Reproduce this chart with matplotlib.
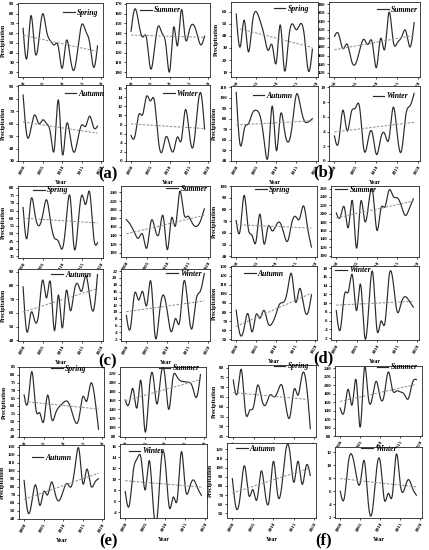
import numpy as np
import matplotlib
matplotlib.use("Agg")
import matplotlib.pyplot as plt
from matplotlib.lines import Line2D

plt.rcParams['font.family'] = ['Liberation Serif', 'DejaVu Serif']

years = list(range(2000, 2020))
seasons = ["Spring", "Summer", "Autumn", "Winter"]

a_spring = [65, 35, 78, 42, 52, 80, 62, 52, 48, 46, 24, 52, 36, 22, 45, 69, 62, 50, 25, 47]
a_summer = [142, 165, 150, 136, 135, 104, 122, 147, 140, 128, 101, 146, 127, 164, 135, 142, 149, 140, 128, 137]
a_autumn = [83, 50, 56, 67, 60, 63, 60, 52, 40, 79, 36, 58, 50, 37, 48, 59, 58, 66, 57, 58]
a_winter = [5.6, 5.4, 10.2, 10.2, 14.2, 13.2, 13.4, 5.0, 2.0, 5.3, 3.5, 2.2, 5.3, 4.6, 11.2, 6.5, 3.0, 10, 15, 7]
b_spring = [58, 31, 53, 27, 50, 60, 52, 40, 28, 32, 18, 49, 12, 35, 50, 45, 50, 40, 11, 29]
b_summer = [205, 210, 176, 187, 150, 140, 172, 198, 186, 191, 132, 200, 175, 261, 194, 190, 203, 218, 180, 237]
b_autumn = [105, 55, 70, 75, 85, 88, 82, 58, 46, 92, 50, 83, 70, 58, 75, 103, 92, 78, 77, 80]
b_winter = [3.4, 2.6, 6.9, 4.1, 6.6, 7.2, 7.3, 1.6, 2.8, 3.9, 0.9, 3.0, 3.7, 3.0, 7.3, 3.5, 1.4, 6.2, 7.5, 9.2]
c_spring = [67, 47, 72, 63, 55, 62, 72, 58, 47, 45, 40, 58, 74, 41, 55, 75, 69, 77, 48, 44]
c_summer = [177, 165, 146, 134, 142, 111, 172, 155, 146, 184.5, 107, 180, 163, 242, 192, 185, 170, 161, 172, 202]
c_autumn = [79, 46, 60, 54, 60, 84, 71, 82, 47, 73, 49, 76, 62, 75, 81, 76, 87, 72, 62, 88]
c_winter = [9, 5.3, 15.4, 13.5, 16, 12, 18.9, 3, 9, 15, 10, 4.2, 8.1, 7.1, 18.9, 12, 5.1, 13.5, 16, 21.3]
d_spring = [70.5, 62, 92, 65, 58, 52.5, 76, 51, 65, 62, 66, 69, 60, 53, 68, 74, 72, 83, 65, 48]
d_summer = [202, 192, 215, 168, 230, 118, 227, 183, 225, 252, 161, 212, 216, 256, 242, 238, 220, 196, 212, 235]
d_autumn = [82, 55, 62, 78, 58, 77, 73, 82, 68, 67, 77, 89, 91, 105, 122, 91, 106, 88, 78, 99]
d_winter = [8.3, 4, 11.9, 12.7, 16.3, 8.3, 14.3, 2.4, 9, 17, 4.1, 5.9, 5.5, 16, 15, 8.1, 10, 11.5, 10.5, 9.1]
e_spring = [67, 62.7, 82, 58, 55.5, 50, 67, 52, 55, 59.5, 62, 63, 58, 50, 52, 66, 63, 74.4, 66, 45]
e_summer = [161, 153, 186, 144, 204, 91, 175, 218, 152, 215, 218, 140, 208, 214, 204, 202, 201, 190, 167, 218]
e_autumn = [88, 48, 62, 82, 57, 74, 70, 86, 70, 63, 75, 84, 80, 105, 127, 84, 102, 82, 85, 90]
e_winter = [7.8, 5.2, 11.5, 13.8, 13.6, 8.1, 13.4, 5.0, 3.2, 13.5, 13.0, 4.9, 6.8, 6.5, 15, 8.4, 8.4, 9.9, 8.5, 7.1]
f_spring = [73.7, 67, 79, 57.4, 58, 60, 71, 64, 61, 66, 65, 68, 71, 60, 55, 69, 66, 76.6, 72, 48.8]
f_summer = [146, 138, 190, 154, 211, 101, 238, 172, 170, 209, 170, 178, 231, 190, 186, 184, 178, 168, 205, 213]
f_autumn = [88, 55, 72, 102, 70, 76, 65, 96, 72, 65, 107, 72, 78, 118, 118, 84, 107, 82, 102, 91.5]
f_winter = [6, 4.9, 10.3, 11.5, 8.5, 7.3, 10.7, 4.2, 2.9, 9.0, 10.5, 4.7, 5.7, 5.4, 11.7, 7.0, 6.3, 7.8, 6.5, 5.4]

series = {
    "a": [a_spring, a_summer, a_autumn, a_winter],
    "b": [b_spring, b_summer, b_autumn, b_winter],
    "c": [c_spring, c_summer, c_autumn, c_winter],
    "d": [d_spring, d_summer, d_autumn, d_winter],
    "e": [e_spring, e_summer, e_autumn, e_winter],
    "f": [f_spring, f_summer, f_autumn, f_winter],
}

# y-axis ranges and tick steps (lim_lo, lim_hi, tick_lo, tick_hi, step)
yaxes = {
    "a": [(15, 91, 20, 90, 10), (95, 171, 100, 170, 10), (30, 91, 30, 90, 10), (0, 16.7, 0, 16, 2)],
    "b": [(6, 68, 10, 60, 10), (110, 285, 120, 280, 20), (40, 111, 40, 110, 10), (0, 10.2, 0, 10, 2)],
    "c": [(34, 81, 35, 80, 5), (90, 255, 100, 240, 20), (39.5, 92, 40, 90, 10), (1.5, 22.6, 2, 22, 2)],
    "d": [(39.5, 100, 40, 100, 10), (97, 266, 100, 260, 20), (49, 131, 50, 130, 10), (1.6, 18.5, 2, 18, 2)],
    "e": [(40, 85, 40, 85, 5), (78, 235, 80, 220, 20), (40, 132, 40, 130, 10), (3, 16.4, 4, 16, 2)],
    "f": [(44.5, 81.4, 45, 80, 5), (80, 245, 80, 240, 20), (45, 127, 50, 120, 10), (1.9, 12.8, 2, 12, 2)],
}

# axes rectangles in pixels: left, top, right, bottom
rects = {
    "a": [(18, 3, 103, 77), (126, 3, 210, 77), (18, 85, 103, 161), (126, 85, 210, 161)],
    "b": [(231, 2, 318, 77), (329, 2, 420, 77), (231, 86, 318, 161), (329, 86, 420, 161)],
    "c": [(18, 186, 103, 258), (121, 186, 210, 257), (18, 269, 103, 341), (121, 269, 210, 341)],
    "d": [(231, 186, 317, 257), (331, 186, 419, 257), (231, 266, 317, 340), (331, 266, 419, 340)],
    "e": [(19, 367, 104, 437), (120, 367, 206, 437), (19, 445, 104, 519), (120, 444, 207, 518)],
    "f": [(228, 365, 316, 437), (335, 366, 422, 436), (227, 443, 316, 518), (335, 447, 422, 518)],
}

# legend anchor (axes fraction)
legpos = {
    "a": [(0.53, 0.87), (0.17, 0.90), (0.55, 0.88), (0.44, 0.88)],
    "b": [(0.49, 0.91), (0.53, 0.90), (0.25, 0.87), (0.48, 0.86)],
    "c": [(0.18, 0.94), (0.51, 0.96), (0.39, 0.92), (0.51, 0.93)],
    "d": [(0.28, 0.95), (0.05, 0.95), (0.15, 0.89), (0.05, 0.94)],
    "e": [(0.38, 0.97), (0.45, 0.98), (0.15, 0.83), (0.10, 0.90)],
    "f": [(0.52, 0.98), (0.48, 0.98), (0.10, 0.92), (0.30, 0.97)],
}

labelpos = {"a": (108, 174), "b": (323, 172), "c": (108, 361),
            "d": (323, 358), "e": (108, 541), "f": (324, 540)}

W, H = 429, 550
fig = plt.figure(figsize=(W / 100, H / 100), dpi=100)


def natural_spline(x, y, n=400):
    x = np.asarray(x, float)
    y = np.asarray(y, float)
    m = len(x)
    h = np.diff(x)
    A = np.zeros((m, m))
    r = np.zeros(m)
    A[0, 0] = 1
    A[-1, -1] = 1
    for i in range(1, m - 1):
        A[i, i - 1] = h[i - 1]
        A[i, i] = 2 * (h[i - 1] + h[i])
        A[i, i + 1] = h[i]
        r[i] = 6 * ((y[i + 1] - y[i]) / h[i] - (y[i] - y[i - 1]) / h[i - 1])
    M = np.linalg.solve(A, r)
    xs = np.linspace(x[0], x[-1], n)
    idx = np.clip(np.searchsorted(x, xs) - 1, 0, m - 2)
    x0, x1 = x[idx], x[idx + 1]
    hh = x1 - x0
    a = (x1 - xs) / hh
    b = (xs - x0) / hh
    ys = a * y[idx] + b * y[idx + 1] + ((a ** 3 - a) * M[idx] + (b ** 3 - b) * M[idx + 1]) * hh ** 2 / 6
    return xs, ys


for g in "abcdef":
    for k in range(4):
        l, t, r, b = rects[g][k]
        ax = fig.add_axes([l / W, 1 - b / H, (r - l) / W, (b - t) / H])
        vals = series[g][k]
        xs, ys = natural_spline(years, vals)
        ax.plot(xs, ys, color='#2a2a2a', lw=0.85)
        p = np.polyfit(years, vals, 1)
        yr = np.array([years[0], years[-1]])
        ax.plot(yr, np.polyval(p, yr), color='#8a8a8a', lw=0.7, ls=(0, (2.5, 1.5)))
        lo, hi, tlo, thi, st = yaxes[g][k]
        ax.set_ylim(lo, hi)
        ax.set_yticks(np.arange(tlo, thi + st / 2, st))
        ax.set_xlim(1998.7, 2020.4)
        ax.set_xticks([2000, 2005, 2010, 2015, 2020])
        ax.tick_params(axis='both', which='major', length=1.6, width=0.5,
                       pad=1, labelsize=3.6, direction='out')
        for lab in ax.get_xticklabels():
            lab.set_rotation(60)
            lab.set_fontweight('bold')
            lab.set_ha('right')
            lab.set_va('top')
            lab.set_rotation_mode('anchor')
        for lab in ax.get_yticklabels():
            lab.set_fontweight('bold')
        for sp in ax.spines.values():
            sp.set_linewidth(0.6)
            sp.set_color('#222222')
        handle = Line2D([], [], color='#2a2a2a', lw=0.85)
        lx, ly = legpos[g][k]
        ax.legend([handle], [seasons[k]], loc='center left', bbox_to_anchor=(lx, ly),
                  frameon=False, handlelength=1.5, handletextpad=0.3, borderpad=0,
                  borderaxespad=0, prop=dict(family='Liberation Serif', style='italic',
                                             weight='bold', size=5.6))
        if k in (0, 2):
            ax.set_ylabel('Precipitation', fontsize=4.3, fontweight='bold', labelpad=2)
        if k in (2, 3):
            ax.set_xlabel('Year', fontsize=4.3, fontweight='bold', labelpad=3)

for g, (x, y) in labelpos.items():
    fig.text(x / W, 1 - y / H, f"({g})", ha='center', va='center',
             fontsize=12, fontweight='bold')

fig.savefig("out.png", dpi=100, facecolor='white')
